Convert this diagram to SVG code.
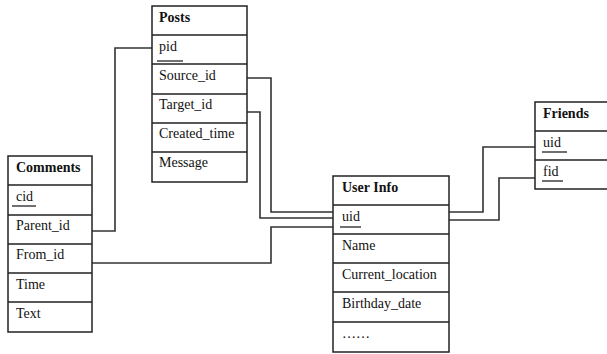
<svg xmlns="http://www.w3.org/2000/svg" width="607" height="354" viewBox="0 0 607 354">
<style>
.box{fill:#fff;stroke:#222;stroke-width:1.5}
.sep{stroke:#222;stroke-width:1.5}
.t{font-family:"Liberation Serif","Times New Roman",serif;font-size:14px;fill:#111}
.h{font-weight:bold}
.u{stroke:#111;stroke-width:1.2}
.c{fill:none;stroke:#333;stroke-width:1.6}
</style>
<rect width="607" height="354" fill="#fff"/>
<g id="connectors">
<path class="c" d="M152,48 H115 V231 H92"/>
<path class="c" d="M247,78 H271 V212 H333"/>
<path class="c" d="M247,112 H260 V218 H333"/>
<path class="c" d="M92,263 H271 V227 H333"/>
<path class="c" d="M449,212 H483 V147 H535"/>
<path class="c" d="M449,220 H499 V178 H535"/>
</g>
<g id="posts">
<rect class="box" x="152" y="6" width="95" height="176"/>
<path class="sep" d="M152,35 H247 M152,64 H247 M152,94 H247 M152,123 H247 M152,152 H247"/>
<text class="t h" x="159" y="22">Posts</text>
<text class="t" x="159" y="51">pid</text>
<line class="u" x1="157" y1="61" x2="183" y2="61"/>
<text class="t" x="159" y="80">Source_id</text>
<text class="t" x="159" y="109">Target_id</text>
<text class="t" x="159" y="138">Created_time</text>
<text class="t" x="159" y="167">Message</text>
</g>
<g id="comments">
<rect class="box" x="8" y="156" width="84" height="176"/>
<path class="sep" d="M8,185 H92 M8,215 H92 M8,244 H92 M8,273 H92 M8,302 H92"/>
<text class="t h" x="16" y="172">Comments</text>
<text class="t" x="16" y="201">cid</text>
<line class="u" x1="12" y1="206" x2="36" y2="206"/>
<text class="t" x="16" y="230">Parent_id</text>
<text class="t" x="16" y="259">From_id</text>
<text class="t" x="16" y="289">Time</text>
<text class="t" x="16" y="318">Text</text>
</g>
<g id="userinfo">
<rect class="box" x="333" y="176" width="116" height="176"/>
<path class="sep" d="M333,205 H449 M333,234 H449 M333,263 H449 M333,292 H449 M333,322 H449"/>
<text class="t h" x="342" y="192">User Info</text>
<text class="t" x="342" y="221">uid</text>
<line class="u" x1="340" y1="227" x2="361" y2="227"/>
<text class="t" x="342" y="250">Name</text>
<text class="t" x="342" y="279">Current_location</text>
<text class="t" x="342" y="308">Birthday_date</text>
<text class="t" x="342" y="338">……</text>
</g>
<g id="friends">
<rect class="box" x="535" y="102" width="80" height="87"/>
<path class="sep" d="M535,131 H615 M535,160 H615"/>
<text class="t h" x="543" y="118">Friends</text>
<text class="t" x="543" y="147">uid</text>
<line class="u" x1="542" y1="152" x2="567" y2="152"/>
<text class="t" x="543" y="176">fid</text>
<line class="u" x1="542" y1="181" x2="563" y2="181"/>
</g>
</svg>
